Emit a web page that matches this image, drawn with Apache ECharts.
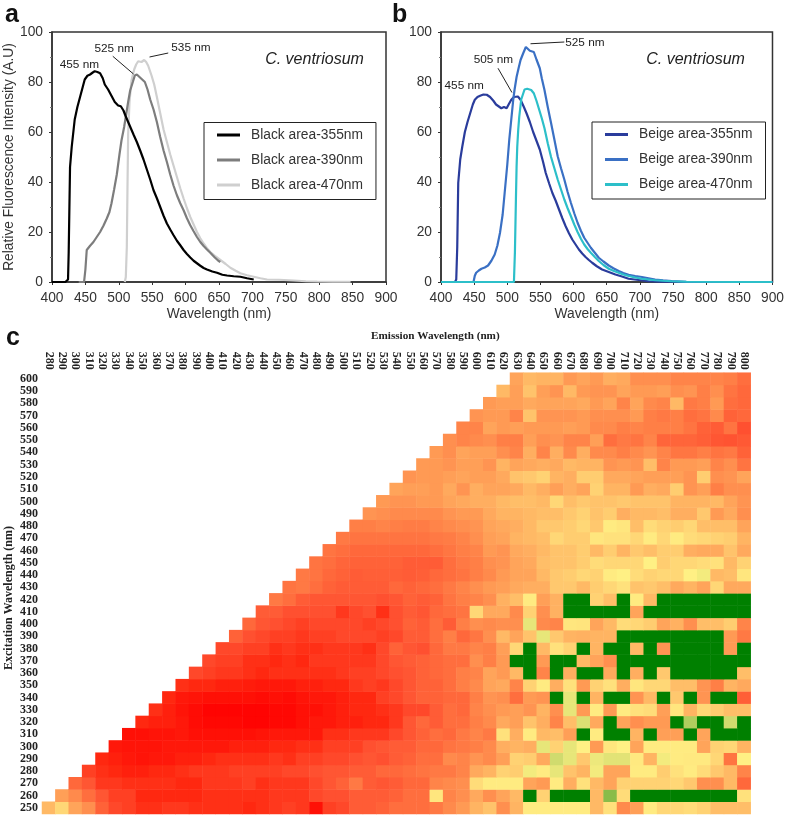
<!DOCTYPE html>
<html>
<head>
<meta charset="utf-8">
<style>
  html, body { margin: 0; padding: 0; background: #fff; }
  #chart { width: 787px; height: 817px; }
</style>
<script src="https://cdn.jsdelivr.net/npm/echarts@6/dist/echarts.min.js"></script>
</head>
<body>
<div id="chart"></div>
<script>
// Panel a: emission spectra, black area
const black355X = [400, 420, 422, 424, 425, 427, 429.5, 434, 438, 442, 446, 449, 453, 457, 461, 464, 468, 472, 476, 479, 484, 489, 494, 499, 503, 507, 510, 514, 518, 522, 527, 532, 537, 542, 547, 552, 557, 562, 567, 572, 577, 582, 587, 592, 597, 602, 607, 612, 617, 622, 627, 632, 640, 647, 655, 662, 672, 682, 692, 702];
const black355Y = [0, 0, 0, 1, 12, 46, 54, 65, 70, 74, 78, 81, 82.5, 83, 83.8, 84.3, 84, 83.5, 81.5, 79, 77, 74.5, 72, 70.6, 70.3, 68.6, 66.5, 64, 61.5, 59, 56, 52.6, 49, 45, 41, 36.7, 33.5, 30, 26.5, 23.4, 21, 18.7, 16.5, 14.7, 12.8, 11.2, 9.8, 8.5, 7.5, 6.5, 5.6, 5, 4.2, 3.7, 2.9, 2.6, 2.3, 2.1, 1.5, 1];
const black390X = [440, 448, 450, 452, 457, 462, 467, 472, 477, 482, 486, 489, 493, 497, 501, 504, 508, 511, 514, 517, 521, 524, 527, 529, 533, 539, 543, 547, 552, 557, 562, 567, 572, 577, 582, 587, 592, 597, 602, 607, 612, 617, 622, 627, 632, 637, 643, 649, 652];
const black390Y = [0, 0, 5, 12.8, 14.5, 16, 18, 20, 22.5, 25.4, 28, 31.4, 37, 43, 51, 56.6, 62, 67, 72, 76.6, 80, 82.6, 83, 82.6, 81.5, 80, 77, 73, 69, 64, 58, 52.6, 48, 43, 38.5, 34.7, 31.5, 28.7, 25.5, 22.7, 20.3, 18, 16, 14.4, 13, 11.7, 10, 8.5, 8];
const black470X = [509, 510.5, 512, 513, 514, 516, 519, 523, 526, 529, 534, 538, 541, 544, 549, 553, 557, 562, 567, 572, 577, 582, 587, 592, 597, 602, 607, 612, 617, 622, 627, 632, 637, 645, 652, 660, 667, 675, 682, 692, 702, 712, 722, 740, 762, 780, 797, 820, 847];
const black470Y = [0, 2, 14, 38, 59, 72, 80.6, 85, 87, 88.3, 88, 88.8, 88, 86.5, 82.6, 79, 74, 67.5, 61, 56, 51, 46.5, 42, 37.5, 33.4, 29.5, 26, 23, 20, 17.5, 15.4, 13.5, 12, 10.2, 8.8, 7.2, 5.7, 4.5, 3.5, 2.7, 2.1, 1.5, 1, 0.9, 0.6, 0.3, 0.2, 0.1, 0.1];

// Panel b: emission spectra, beige area
const beige355X = [400, 421, 423, 424.5, 426, 429, 432, 436, 440, 444, 448, 451, 455, 459, 464, 469, 474, 479, 483, 486, 491, 495, 499, 502, 506, 510, 513, 516, 520, 525, 529, 534, 539, 544, 549, 554, 558, 563, 568, 573, 578, 583, 588, 593, 598, 603, 608, 613, 618, 623, 628, 635, 643, 653, 663, 673, 683, 698, 713, 730, 900];
const beige355Y = [0, 0, 1, 14, 39.6, 49, 54, 60, 64, 67.5, 71, 72.9, 74, 74.5, 75, 74.9, 74, 72.5, 71, 71.3, 69.5, 70, 69.5, 71, 72.9, 74, 74.6, 74.2, 72.9, 70, 67.5, 64, 60, 56.5, 53, 48, 43.6, 39.5, 35.6, 32.5, 29, 25.5, 22.3, 19.5, 17, 15, 13, 11.4, 10, 8.8, 7.7, 6.3, 5, 4, 3, 2.2, 1.3, 0.8, 0.3, 0.1, 0];
const beige390X = [400, 449, 451, 453, 457, 461, 466, 471, 476, 481, 485, 489, 493, 496, 500, 503, 506, 509, 511, 514, 517, 520, 524, 528, 531, 534, 537, 540, 544, 549, 552, 556, 561, 566, 571, 576, 581, 586, 591, 596, 601, 606, 611, 616, 621, 626, 632, 638, 645, 653, 660, 668, 675, 683, 693, 703, 713, 723, 735, 748, 770, 900];
const beige390Y = [0, 0, 2.5, 3.7, 4.6, 5.3, 5.8, 6.6, 8.5, 11, 14.5, 19.7, 27, 35.6, 47, 57, 65, 73, 77, 82, 85.5, 88.8, 91.5, 94, 93.8, 92.5, 92.3, 92, 89, 85.5, 81.5, 76.9, 70, 63.6, 57, 50.3, 45.5, 41, 36, 31.6, 27.5, 23.7, 20.5, 17.7, 15.7, 13.7, 11.7, 9.7, 8.2, 6.6, 5.5, 4.4, 3.6, 2.9, 2.4, 2, 1.5, 1, 0.7, 0.4, 0.1, 0];
const beige470X = [400, 510, 511.5, 513, 514, 515, 516.5, 518, 521, 526, 530, 533, 536, 540, 544, 548, 552, 556, 561, 566, 571, 576, 581, 586, 591, 596, 601, 606, 611, 616, 621, 626, 632, 638, 645, 653, 660, 668, 675, 683, 693, 703, 713, 723, 735, 748, 770, 900];
const beige470Y = [0, 0, 12, 33, 46, 54, 61, 66, 73, 77, 77.3, 77.5, 76.8, 75.5, 72.5, 69, 65.5, 61.6, 55.5, 50, 45.5, 41, 37, 33, 29.5, 26.3, 23, 20, 17.3, 15, 13.2, 11.7, 10, 8.4, 6.8, 5.3, 4.5, 3.7, 3, 2.4, 1.8, 1.3, 1, 0.7, 0.5, 0.3, 0.1, 0];

const wavelengthTicks = [400, 450, 500, 550, 600, 650, 700, 750, 800, 850, 900];

// Peak notes, in data units: [wavelength, intensity, text]
const notesA = [[441, 86.8, '455 nm'], [493, 93.5, '525 nm'], [608, 93.6, '535 nm']];
const leadersA = [[[491, 90.3], [522, 83.2]], [[546, 90], [574, 91.6]]];
const notesB = [[435, 78.7, '455 nm'], [479, 89, '505 nm'], [617, 95.7, '525 nm']];
const leadersB = [[[486, 85.5], [507, 75.8]], [[535, 95.3], [586, 96]]];
const speciesA = [793, 88.8];
const speciesB = [784, 88.8];

// Panel c: heat map. G marks the saturated green cells.
const G = 100;
const emissionLabels = [];
for (let w = 280; w <= 800; w += 10) emissionLabels.push(String(w));
const excitationLabels = [];
for (let w = 250; w <= 600; w += 10) excitationLabels.push(String(w));

// One row per excitation wavelength, 250 first. Each row starts at excitation + 30 nm and ends at 800 nm.
const heatScores = [
  [58,70,50,42,26,18,16,12,12,14,14,12,12,12,12,10,12,14,16,14,4,16,18,24,24,26,30, 30,30,34,40,46,56,62,42,56,78,78,78,78,78,58,74,40,48,78,70,70,72,68,60,60,60],
  [48,40,30,22,16,16,10,10,10,10,10,12,12,12,12,12,14,14,14,18,20,20,24,24,24,26, 30,30,76,38,42,52,42,50,58,G,68,G,G,G,58,93,72,G,G,G,G,G,G,G,G,74],
  [28,22,14,14,12,12,12,12,10,10,14,14,14,16,12,14,14,14,18,22,26,34,24,22,24, 28,28,38,40,42,72,78,78,78,50,46,78,54,74,58,50,68,68,68,68,70,64,42,42,58,28],
  [16,12,10,8,8,10,10,12,14,14,14,16,16,16,16,18,18,20,22,22,24,24,28,28, 30,32,34,34,38,52,56,68,66,82,78,84,62,56,82,50,50,78,78,66,74,78,72,64,58,38],
  [10,8,6,5,6,6,8,8,10,12,12,12,12,14,12,16,16,18,18,20,22,20,24, 26,30,30,40,38,44,40,48,68,66,52,88,84,64,83,85,85,77,56,82,78,77,77,70,32,80],
  [6,5,5,5,6,6,6,6,6,8,8,8,10,10,12,12,16,16,16,20,22,24, 24,28,28,32,34,36,40,54,56,54,84,68,84,80,46,76,80,50,78,78,78,78,50,68,70,56],
  [4,4,5,5,6,4,4,4,4,4,5,6,6,6,6,12,12,14,14,14,18, 22,26,30,28,34,38,34,74,54,78,58,60,48,G,78,G,G,56,G,48,48,G,50,G,G,G],
  [10,8,8,6,3,2,2,2,1,1,2,2,4,6,6,8,8,10,10,14, 22,28,24,30,30,36,40,52,48,62,54,38,60,86,52,G,50,42,46,46,G,91,G,G,88,G],
  [12,8,5,3,1,1,1,1,1,2,2,4,4,6,8,10,10,12,14, 18,18,24,30,28,38,42,46,48,44,56,42,84,46,78,46,78,74,72,48,76,56,70,66,60,60],
  [10,6,5,4,4,4,4,3,4,3,5,6,6,8,10,10,16,18, 22,26,26,28,28,36,44,42,30,46,44,G,84,G,56,G,G,44,58,G,64,G,44,G,G,25],
  [12,10,10,8,8,7,6,6,6,8,8,10,10,14,16,14,18, 22,26,26,30,36,40,50,52,38,68,78,54,74,46,68,74,54,76,70,70,60,60,44,36,56,52],
  [18,16,14,14,12,10,12,12,12,12,12,14,16,16,18,20, 22,26,28,30,36,38,50,46,58,G,38,G,54,G,G,52,G,54,G,64,G,G,G,G,G,60],
  [18,16,16,12,12,10,12,10,14,14,14,14,14,18,22, 24,26,28,30,30,42,36,46,G,G,46,G,G,58,50,42,G,G,G,G,G,G,G,G,G,G],
  [18,18,16,16,12,14,12,12,14,14,14,12,18,26, 22,20,28,34,34,38,36,48,70,G,58,74,68,G,56,G,G,58,G,44,G,G,G,G,46,G],
  [26,20,18,16,16,14,16,16,18,18,18,16,18, 24,24,30,36,28,33,42,58,50,62,84,64,56,55,56,56,G,G,G,G,G,G,G,G,46,34],
  [28,22,20,18,16,18,18,18,18,16,18,20, 26,24,30,24,36,42,40,42,42,84,40,38,76,75,50,58,72,70,66,50,55,42,60,60,66,38],
  [24,24,20,20,20,20,14,18,20,12,20, 24,22,28,30,32,70,52,52,40,68,42,55,G,G,G,G,G,50,G,G,G,G,G,G,G,G],
  [34,30,24,22,22,22,22,22,20,22, 26,24,26,32,36,38,42,55,60,78,48,55,G,G,68,60,G,78,58,G,G,G,G,G,G,G],
  [32,34,30,26,24,24,24,24,28, 26,28,30,34,38,42,46,48,52,54,54,64,64,58,66,70,74,62,64,60,52,56,50,70,52,52],
  [34,32,28,26,24,25,25,25, 24,25,28,30,32,36,40,46,50,50,58,64,66,70,68,78,80,72,68,70,70,80,82,58,60,76],
  [32,30,27,26,26,26,26, 24,24,24,30,34,36,42,44,50,52,60,62,62,66,72,70,70,70,80,66,70,70,72,74,58,68],
  [32,30,28,28,28,28, 28,28,30,33,36,38,46,44,52,54,58,62,62,66,58,66,56,64,60,66,66,54,52,52,62,52],
  [34,32,32,32,32, 32,32,34,35,38,42,48,50,56,58,60,70,66,66,76,74,74,70,78,70,78,72,70,68,66,56],
  [36,36,38,36, 35,35,38,40,42,44,50,52,54,58,64,64,66,70,64,78,76,60,72,68,66,70,60,60,60,50],
  [44,42,40, 40,40,40,44,46,46,52,56,56,58,60,60,64,68,62,66,54,58,58,60,54,54,64,46,52,42],
  [46,44, 44,46,46,50,52,54,54,58,60,60,58,70,60,64,62,62,64,62,62,62,56,56,56,58,50,44],
  [50, 48,48,46,52,44,54,50,50,52,58,54,48,54,50,68,56,56,46,54,52,66,44,48,36,42,42],
  [44,46,46,48,50,48,48,52,62,64,68,56,54,66,66,52,52,50,48,48,48,44,66,42,44,50],
  [46,46,44,48,48,44,56,50,52,54,52,58,56,56,44,46,44,60,38,46,46,48,38,42,32],
  [46,42,50,48,48,42,38,54,38,54,40,54,40,40,36,40,44,38,33,33,36,32,34,26],
  [42,38,40,42,36,36,48,42,44,38,38,48,30,34,32,38,27,27,27,25,22,21,23],
  [38,38,50,46,48,46,46,46,48,46,40,40,36,38,36,36,36,32,26,24,32,20],
  [44,46,46,38,62,44,44,44,46,42,42,42,46,36,34,36,30,32,40,26,28],
  [46,48,48,52,50,50,50,52,46,50,38,50,40,38,58,34,36,46,30,28],
  [58,48,62,48,44,58,46,44,44,50,46,46,48,42,44,36,42,32,28],
  [50,58,56,56,46,50,46,54,52,42,42,42,38,38,38,38,36,30]
];
const heatColors = ['#ff0000', '#ff2810', '#ff5030', '#ff6e3e', '#ff8a4c', '#ffa45a', '#ffbe68', '#ffd776', '#fff084', '#c4d668', '#008000'];

const chart = echarts.init(document.getElementById('chart'));

const sansFont = '"Liberation Sans", Arial, sans-serif';
const serifFont = '"Liberation Serif", "Times New Roman", serif';

function zip(xs, ys) {
  return xs.map((x, i) => [x, ys[i]]);
}

function buildHeatData() {
  const out = [];
  heatScores.forEach((row, r) => {
    const startColumn = r; // excitation 250 starts at emission 280, each row one column further right
    row.forEach((v, i) => out.push([startColumn + i, r, v]));
  });
  return out;
}

function spectrumXAxis(gridIndex, showName) {
  return {
    type: 'value', gridIndex, min: 400, max: 900, interval: 50,
    name: showName, nameLocation: 'middle', nameGap: 25,
    nameTextStyle: { fontFamily: sansFont, fontSize: 13.8, color: '#333' },
    axisLine: { show: true, onZero: false, lineStyle: { color: '#333', width: 1.5 } },
    axisTick: { show: true, length: 3, lineStyle: { color: '#333' } },
    axisLabel: { fontFamily: sansFont, fontSize: 13.8, color: '#333', margin: 9, formatter: v => wavelengthTicks.includes(v) ? String(v) : '' },
    splitLine: { show: false }
  };
}

function spectrumYAxis(gridIndex, name) {
  return {
    type: 'value', gridIndex, min: 0, max: 100, interval: 20,
    name, nameLocation: 'middle', nameGap: 35,
    nameTextStyle: { fontFamily: sansFont, fontSize: 13.8, color: '#333' },
    axisLine: { show: true, lineStyle: { color: '#333', width: 1.5 } },
    axisTick: { show: true, length: 3, lineStyle: { color: '#333' } },
    minorTick: { show: true, splitNumber: 2, length: 2, lineStyle: { color: '#777' } },
    axisLabel: { fontFamily: sansFont, fontSize: 13.8, color: '#333', margin: 9 },
    splitLine: { show: false }
  };
}

function spectrumSeries(name, xs, ys, color, axisIndex, z, extra) {
  return Object.assign({
    type: 'line', name, data: zip(xs, ys), xAxisIndex: axisIndex, yAxisIndex: axisIndex,
    showSymbol: false, symbol: 'none', z,
    lineStyle: { color, width: 2.2 }, itemStyle: { color }
  }, extra || {});
}

function noteMarks(notes, leaders, species) {
  const labelStyle = { fontFamily: sansFont, fontSize: 11.8, color: '#222' };
  const points = notes.map(n => ({
    coord: [n[0], n[1]], symbolSize: 0,
    label: Object.assign({ show: true, formatter: n[2], position: 'inside' }, labelStyle)
  }));
  points.push({
    coord: species, symbolSize: 0,
    label: { show: true, formatter: 'C. ventriosum', position: 'inside', fontFamily: sansFont, fontStyle: 'italic', fontSize: 16, color: '#222' }
  });
  return {
    markPoint: { silent: true, symbol: 'circle', data: points },
    markLine: {
      silent: true, symbol: 'none', animation: false,
      lineStyle: { color: '#222', width: 1, type: 'solid' }, label: { show: false },
      data: leaders.map(l => [{ coord: l[0] }, { coord: l[1] }])
    }
  };
}

function spectrumLegend(left, names, top) {
  return {
    data: names, orient: 'vertical', left, top,
    backgroundColor: '#fff', borderColor: '#222', borderWidth: 1,
    padding: [4, 13, 6, 13], itemWidth: 23, itemHeight: 3, itemGap: 8, icon: 'rect',
    selectedMode: false,
    textStyle: { fontFamily: sansFont, fontSize: 13.8, color: '#333', padding: [0, 0, 0, 6], lineHeight: 17 }
  };
}

chart.setOption({
  animation: false,
  backgroundColor: '#fff',
  grid: [
    { left: 52, top: 32, width: 334, height: 250, show: true, borderColor: '#333', borderWidth: 1.5, backgroundColor: 'transparent' },
    { left: 441, top: 32, width: 334, height: 250, show: true, borderColor: '#333', borderWidth: 1.5, backgroundColor: 'transparent' },
    { left: 42, top: 372.7, width: 708.7, height: 441.3 }
  ],
  xAxis: [
    spectrumXAxis(0, 'Wavelength (nm)'),
    spectrumXAxis(1, 'Wavelength (nm)'),
    {
      type: 'category', gridIndex: 2, position: 'top', data: emissionLabels,
      axisLine: { show: false }, axisTick: { show: false }, splitArea: { show: false },
      axisLabel: { interval: 0, rotate: 90, margin: 3, fontFamily: serifFont, fontWeight: 'bold', fontSize: 12, color: '#222' }
    }
  ],
  yAxis: [
    spectrumYAxis(0, 'Relative Fluorescence Intensity (A.U)'),
    spectrumYAxis(1, ''),
    {
      type: 'category', gridIndex: 2, data: excitationLabels,
      axisLine: { show: false }, axisTick: { show: false }, splitArea: { show: false },
      axisLabel: { interval: 0, margin: 4, fontFamily: serifFont, fontWeight: 'bold', fontSize: 12, color: '#222' }
    }
  ],
  legend: [
    spectrumLegend(204, ['Black area-355nm', 'Black area-390nm', 'Black area-470nm'], 122.5),
    spectrumLegend(592, ['Beige area-355nm', 'Beige area-390nm', 'Beige area-470nm'], 122)
  ],
  visualMap: {
    show: false, type: 'continuous', seriesIndex: 6, min: 0, max: 100, dimension: 2,
    inRange: { color: heatColors }
  },
  series: [
    spectrumSeries('Black area-355nm', black355X, black355Y, '#000000', 0, 5, noteMarks(notesA, leadersA, speciesA)),
    spectrumSeries('Black area-390nm', black390X, black390Y, '#7d7d7d', 0, 4),
    spectrumSeries('Black area-470nm', black470X, black470Y, '#cfcfcf', 0, 3),
    spectrumSeries('Beige area-355nm', beige355X, beige355Y, '#2a3c9c', 1, 3, noteMarks(notesB, leadersB, speciesB)),
    spectrumSeries('Beige area-390nm', beige390X, beige390Y, '#3a70c4', 1, 4),
    spectrumSeries('Beige area-470nm', beige470X, beige470Y, '#2cbfc9', 1, 5),
    { type: 'heatmap', xAxisIndex: 2, yAxisIndex: 2, data: buildHeatData(), progressive: 0, emphasis: { disabled: true } }
  ],
  graphic: [
    { type: 'text', left: 5, top: 3, style: { text: 'a', font: 'bold 25px "Liberation Sans", sans-serif', fill: '#111' } },
    { type: 'text', left: 392, top: 3, style: { text: 'b', font: 'bold 25px "Liberation Sans", sans-serif', fill: '#111' } },
    { type: 'text', left: 6, top: 326, style: { text: 'c', font: 'bold 25px "Liberation Sans", sans-serif', fill: '#111' } },
    { type: 'text', left: 371, top: 331, style: { text: 'Emission Wavelength (nm)', font: 'bold 11.2px "Liberation Serif", serif', fill: '#222' } },
    { type: 'text', x: 9, y: 598, rotation: Math.PI / 2, style: { text: 'Excitation Wavelength (nm)', font: 'bold 12px "Liberation Serif", serif', fill: '#222', align: 'center', verticalAlign: 'middle' } }
  ]
});
</script>
</body>
</html>
